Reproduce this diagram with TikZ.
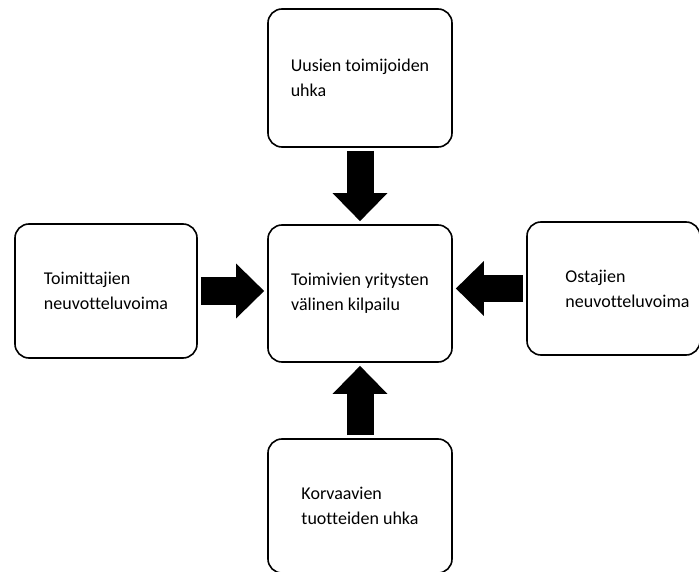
\documentclass[tikz,border=0pt]{standalone}
\usepackage{fontspec}
\setmainfont{Carlito}[Ligatures=NoCommon]
\usetikzlibrary{arrows.meta,positioning}
\newcommand\BoxW{184pt}
\newcommand\BoxH{136pt}
\newcommand\Gap{3pt}
\tikzstyle{force}=[rectangle,draw=black,line width=1.6pt,rounded corners=14pt,
                   align=left,font=\fontsize{18}{25}\selectfont,
                   minimum width=\BoxW,minimum height=\BoxH]
\tikzstyle{push}=[line width=27pt,-{Triangle[width=53pt,length=28pt]},
                  shorten <=\Gap,shorten >=\Gap]
\begin{document}
\begin{tikzpicture}[x=1pt,y=-1pt]
      \useasboundingbox (0,0) rectangle (699,572);
      \node[force] (rivalry) at (360,293.5) [minimum height=137pt] {Toimivien yritysten\\välinen kilpailu};
      \node[force] (entrants) at (360,78) [minimum height=138pt] {Uusien toimijoiden\\uhka};
      \node[force] (suppliers) at (106,291) [minimum width=182pt,minimum height=134pt] {Toimittajien\\neuvotteluvoima};
      \node[force] (buyers) at (613.5,288.5) [minimum width=173pt,minimum height=133pt,
            label={[xshift=14pt,align=left,font=\fontsize{18}{25}\selectfont]center:Ostajien\\neuvotteluvoima}] {};
      \node[force] (substitutes) at (360,506) [minimum height=134pt] {Korvaavien\\tuotteiden uhka};
      % arrows into the centre box
      \draw[push] (entrants) -- (rivalry);
      \draw[push] (substitutes) -- (rivalry);
      \draw[push] (suppliers.east) -- (suppliers.east -| rivalry.west);
      \draw[push] (buyers.west) -- (buyers.west -| rivalry.east);
   \end{tikzpicture}
\end{document}
